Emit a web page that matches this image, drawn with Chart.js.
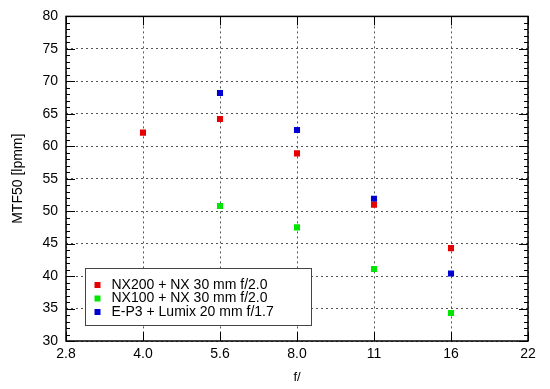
<!DOCTYPE html>
<html>
<head>
<meta charset="utf-8">
<script src="https://cdn.jsdelivr.net/npm/chart.js@4"></script>
<style>
  html, body { margin: 0; padding: 0; background: #fff; }
  #wrap { width: 550px; height: 389px; }
</style>
</head>
<body>
<div id="wrap"><canvas id="mtfChart"></canvas></div>
<script>
  // f-stops on the x axis (equally spaced, one stop apart)
  const fStops = ["2.8", "4.0", "5.6", "8.0", "11", "16", "22"];
  const seriesNames = ["NX200 + NX 30 mm f/2.0", "NX100 + NX 30 mm f/2.0", "E-P3 + Lumix 20 mm f/1.7"];
  const nx200 = [null, 62.1, 64.2, 58.9, 51.0, 44.3, null];
  const nx100 = [null, null, 50.8, 47.5, 41.1, 34.3, null];
  const ep3 = [null, null, 68.2, 62.5, 51.9, 40.4, null];
  const colors = ["#e60000", "#00e600", "#0000d0"];
  const font = "'Liberation Sans', Arial, sans-serif";

  function toPoints(arr) {
    return arr.map((v, i) => v === null ? null : { x: i, y: v }).filter(p => p);
  }

  // frame, inside tick marks and the boxed legend, gnuplot style
  const framePlugin = {
    id: "frame",
    afterDraw(chart) {
      const { ctx, chartArea: a, scales } = chart;
      const xs = scales.x, ys = scales.y;
      ctx.save();
      ctx.strokeStyle = "#000";
      ctx.lineWidth = 1;
      ctx.beginPath();
      for (let v = 30; v <= 80; v++) {
        const py = Math.round(ys.getPixelForValue(v)) + 0.5;
        const len = v % 5 === 0 ? 9 : 4;
        ctx.moveTo(a.left, py); ctx.lineTo(a.left + len, py);
        ctx.moveTo(a.right, py); ctx.lineTo(a.right - len, py);
      }
      for (let i = 0; i < fStops.length; i++) {
        const px = Math.round(xs.getPixelForValue(i)) + 0.5;
        ctx.moveTo(px, a.bottom); ctx.lineTo(px, a.bottom - 9);
        ctx.moveTo(px, a.top); ctx.lineTo(px, a.top + 9);
      }
      ctx.stroke();
      ctx.lineWidth = 1.5;
      ctx.strokeRect(a.left, a.top, a.right - a.left, a.bottom - a.top);

      // legend box
      const lx = 85.5, ly = 268.5, lw = 226, lh = 57;
      ctx.fillStyle = "#fff";
      ctx.fillRect(lx, ly, lw, lh);
      ctx.lineWidth = 1;
      ctx.strokeStyle = "#444";
      ctx.strokeRect(lx, ly, lw, lh);
      ctx.font = "14px " + font;
      ctx.textBaseline = "middle";
      chart.data.datasets.forEach((ds, i) => {
        const cy = ly + 16.5 + i * 13.5;
        ctx.fillStyle = ds.backgroundColor;
        ctx.fillRect(lx + 9, cy - 3, 6, 6);
        ctx.fillStyle = "#000";
        ctx.fillText(ds.label, lx + 26, cy);
      });
      ctx.restore();
    }
  };

  new Chart(document.getElementById("mtfChart"), {
    type: "scatter",
    data: {
      datasets: [nx200, nx100, ep3].map((arr, i) => ({
        label: seriesNames[i],
        data: toPoints(arr),
        backgroundColor: colors[i],
        borderColor: colors[i],
        pointStyle: "rect",
        pointRadius: 4.3,
        pointHoverRadius: 4.3,
        borderWidth: 0
      }))
    },
    options: {
      responsive: true,
      maintainAspectRatio: false,
      animation: false,
      layout: { padding: { left: 0, right: 22, top: 12, bottom: 0 } },
      plugins: { legend: { display: false }, tooltip: { enabled: false } },
      scales: {
        x: {
          type: "linear",
          min: 0,
          max: fStops.length - 1,
          afterFit: s => { s.height = 48; },
          ticks: {
            stepSize: 1,
            padding: 5,
            color: "#000",
            font: { family: font, size: 14 },
            callback: v => fStops[v]
          },
          grid: { color: "#555", drawTicks: false, lineWidth: 1 },
          border: { display: false, dash: [2, 3] },
          title: { display: true, text: "f/", color: "#000", font: { family: font, size: 13 }, padding: { top: 4 } }
        },
        y: {
          min: 30,
          max: 80,
          afterFit: s => { s.width = 66; },
          ticks: {
            stepSize: 5,
            padding: 8,
            color: "#000",
            font: { family: font, size: 14 }
          },
          grid: { color: "#555", drawTicks: false, lineWidth: 1 },
          border: { display: false, dash: [2, 3] },
          title: { display: true, text: "MTF50 [lpmm]", color: "#000", font: { family: font, size: 14 }, padding: { top: 10, bottom: 0 } }
        }
      }
    },
    plugins: [framePlugin]
  });
</script>
</body>
</html>
